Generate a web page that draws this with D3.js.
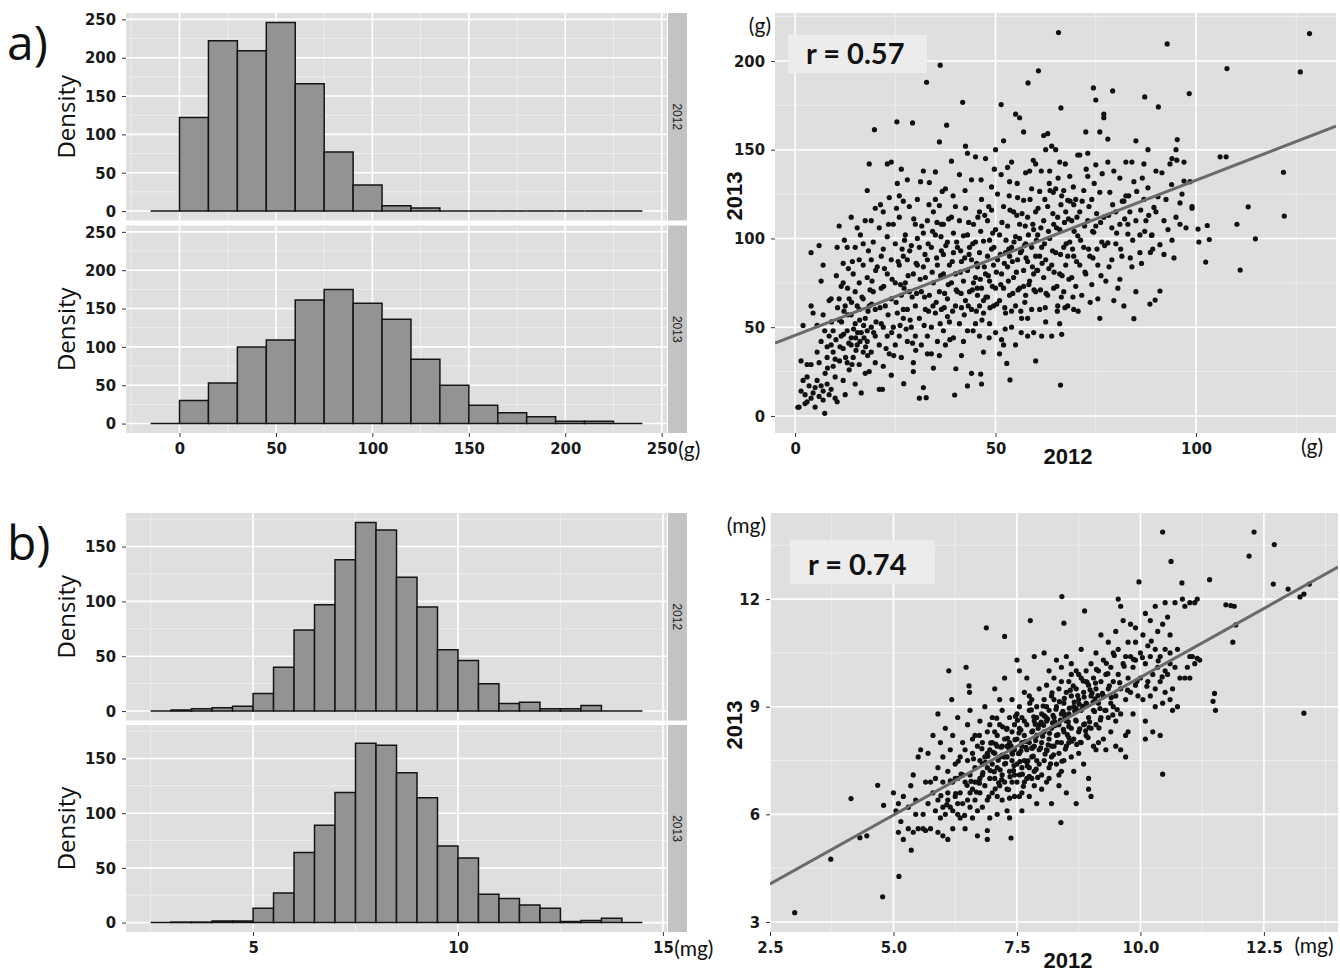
<!DOCTYPE html>
<html>
<head>
<meta charset="utf-8">
<script src="https://cdn.jsdelivr.net/npm/d3@7"></script>
<style>
  body { margin: 0; background: #fff; }
  svg { display: block; }
  .tick text { font-family: "Liberation Sans Narrow", "DejaVu Sans Condensed", "Liberation Sans", sans-serif; font-weight: bold; font-size: 16.5px; fill: #1a1a1a; }
  .tick line { stroke: #333; }
  .major { stroke: #fff; stroke-width: 1.6; }
  .minor { stroke: #f1f1f1; stroke-width: 0.8; }
</style>
</head>
<body>
<svg id="chart"></svg>
<script>
// DATA - histograms (counts per bin)
const gBinStart = -15, gBinWidth = 15;
const gCounts2012 = [0, 122, 222, 209, 246, 166, 77, 34, 7, 4, 0, 0, 0, 0, 0, 0, 0];
const gCounts2013 = [0, 30, 53, 100, 109, 161, 175, 157, 136, 84, 50, 24, 14, 9, 3, 3, 0];
const mgBinStart = 2.5, mgBinWidth = 0.5;
const mgCounts2012 = [0, 1, 2, 3, 4.5, 16, 40, 74, 97, 138, 172, 165, 122, 95, 56, 46, 25, 7, 8, 2, 2, 5, 0, 0];
const mgCounts2013 = [0, 0.5, 0.5, 1.5, 1.5, 13, 27, 64, 89, 119, 164, 162, 137, 114, 70, 59, 26, 22, 16, 13, 1, 2, 4, 0];

// DATA - ticks
const gTicks = [0, 50, 100, 150, 200, 250];
const mgTicksX = [5, 10, 15];
const mgTicksY = [0, 50, 100, 150];
const sgTicksX = [0, 50, 100];
const sgTicksY = [0, 50, 100, 150, 200];
const smgTicksX = [2.5, 5, 7.5, 10, 12.5];
const smgTicksY = [3, 6, 9, 12];
const facetLabels = ['2012', '2013'];

// DATA - regression fits [intercept, slope] and labels
const fitG = [45.4, 0.874];
const fitMg = [2.14, 0.768];
const rLabels = ['r = 0.57', 'r = 0.74'];

// DATA - scatter a (2012 g, 2013 g)
const ptsG = [
[65.7,216],[92.8,209.6],[128.3,215.4],[126,193.8],[107.7,195.7],[36.2,197.6],[32.8,188],[60.7,194.4],[58.1,187.6],[41.8,176.7],
[51.4,175.4],[37.8,163.8],[25.4,165.7],[29.3,165.1],[19.8,161.3],[36,154.4],[66.3,173.5],[74.4,184.8],[79.2,183.1],[87.2,179.7],
[90.6,174.1],[98.3,181.6],[95.3,155.7],[106,146],[107.5,146],[121.8,137.3],[122,112.6],[110.2,108],[113,117.8],[114.8,99.8],
[111,82.2],[102.4,86.7],[100.7,98],[103.3,99.4],[102.8,107.3],[100.5,105.3],[99,118],[93.9,130.4],[97,132.3],[95.2,144.1],
[84.5,54.8],[89.8,65.3],[91,70.4],[86.4,85.9],[88.6,92.1],[88.9,101.7],[66.2,17.4],[60,31],[53.6,20.3],[39.8,11.8],
[32.7,10.3],[43,16.9],[27.1,18.2],[21.8,15],[52.8,29.6],[46.3,23.6],[40.1,26.6],[7.4,1.5],[0.7,4.9],
[1,5],[1.5,14],[2,20],[2.5,12],[3,22],[3,8],[3.5,17],[4,29],[4,10],[4.5,13],[5,16],[5,5],[5.5,20],[6,11],[6,30],[6.5,17],
[7,14],[7,9],[7.5,24],[8,18],[8,33],[8.5,12],[9,15],[9,40],[9.5,28],[8.5,45],[7,57],[7,85],[6.5,76],[4,62],[4.5,58],
[4,92],[5.5,51],[2,51],[1.5,31],[3,29],[6,96],[8.5,65],[9,66],[9.5,36],[10,22],[10,10],[10.5,8],[9.5,48],[8,39],[10,32],[2.5,7],
[10.5,95],[11,107],[11.5,73],[11,54],[11.5,45],[12,38],[12,20],[12.5,12],[12,86],[12.5,62],[13,48],[13,95],[13.5,26],[13.5,66],
[14,57],[14,44],[14,112],[14.5,33],[14.5,80],[15,52],[15,18],[15,70],[15.5,40],[15.5,106],[16,60],[16,29],[16,88],[16.5,47],
[16.5,13],[17,66],[17,36],[17,97],[17.5,55],[17.5,110],[18,42],[18,78],[18,127],[18.5,62],[18.5,25],[18.5,142],[19,50],[19,88],
[19,36],[19.5,70],[19.5,98],[20,45],[20,117],[20,60],[20,30],[17.5,24],[15,95],[12,75],[11,66],[13,30],[14,40],[16,75],[19,110],
[18,48],[17,85],[15.5,62],
[5.5,36],[6.5,42],[7.4,48],[8.1,27],[9.1,53],[10.2,43],[10.6,61],[11.1,31],[11.6,53],[12.1,46],[12.6,33],[13.2,57],[13.4,41],
[14.1,64],[14.6,49],[15.2,37],[15.6,47],[16.1,54],[16.7,67],[17.2,44],[17.6,39],[18.2,59],[18.7,71],[19.1,63],[19.6,47],[20.2,53],
[11.2,39],[12.2,59],[13.1,72],[14.2,29],[15.1,44],[16.2,42],[17.1,51],[18.1,34],[19.2,76],[20.1,82],[16.3,102],[14.3,87],
[12.3,99],[10.3,79],[13.3,83],[18.3,93],
[20.5,84],[21,106],[21,40],[21.5,72],[21.5,52],[22,94],[22,28],[22,115],[22.5,62],[23,45],[23,80],[23,101],[23.5,35],[23.5,123],
[24,66],[24,88],[24,143],[24.5,50],[24.5,108],[25,75],[25,40],[25,97],[25.5,131],[25.5,58],[26,85],[26,45],[26,112],[26.5,68],
[26.5,33],[26.5,139],[27,90],[27,55],[27,121],[27.5,75],[27.5,102],[28,60],[28,42],[28,88],[28.5,118],[28.5,70],[29,50],[29,96],
[29.5,80],[29.5,30],[30,62],[30,108],[30,45],[21,15],[22,50],[24,23],[26,124],[28,133],[29.5,25],[23,142],[21.5,90],[27,60],
[21.2,61],[22.1,73],[22.7,38],[23.2,57],[24.1,47],[24.2,77],[25.2,64],[25.7,87],[26.2,51],[26.7,94],[27.2,72],[27.7,49],[28.2,79],
[28.7,54],[29.2,67],[29.6,111],[30.2,86],[30.1,37],[21.3,119],[22.3,83],[23.3,108],[24.6,34],[25.3,117],[26.3,74],[27.3,99],
[28.6,93],[29.3,41],[30.3,69],
[30.5,85],[30.5,122],[31,55],[31,95],[31.5,70],[31.5,40],[32,103],[32,138],[32,16],[32.5,78],[32.5,60],[33,110],[33,45],[33,88],
[33.5,131.5],[33.5,68],[34,95],[34,50],[34,35],[34.5,115],[34.5,75],[35,137.5],[35,58],[35,102],[35.5,85],[35.5,42],[36,118.5],
[36,70],[36.5,93],[36.5,60],[37,108],[37,48],[37,80],[37.5,128],[37.5,40],[38,98],[38,66],[38.5,85],[38.5,53],[39,112],[39,75],
[39.5,92],[39.5,44],[40,118],[40,62],[40,80],[33,35],[31,10],[34.5,27],[36,34],[38,56],[39,143.5],[37,91],[35,122],[32,84],
[30.5,100],[36.5,108],[39.5,103],
[31.2,77],[31.6,107],[32.2,51],[32.3,67],[33.2,97],[33.3,59],[34.2,81],[34.3,104],[35.2,64],[35.3,89],[36.2,52],[36.3,79],
[36.7,126.5],[37.2,61],[37.6,96],[38.2,74],[38.3,111],[38.6,43],[39.2,87],[39.3,59],[40.2,71],[40.3,98],[31.3,132],[33.4,119],
[35.4,109],[37.3,69],[39.4,124],[34.4,62],[32.4,91],[36.4,101],
[40.5,95],[40.5,70],[41,110],[41,52],[41.5,87],[41.5,61],[42,76],[42,42],[42,101.5],[42.5,65],[42.5,117],[43,82],[43,48],[43,148],
[43.5,95],[43.5,70],[44,60],[44,133],[44,88],[44.5,108],[44.5,75],[45,52],[45,98],[45,146],[45.5,68],[45.5,84],[46,115],[46,45],
[46,92],[46.5,72],[46.5,122],[47,58],[47,98.5],[47,36],[47.5,80],[47.5,145],[48,67],[48,90],[48,110],[48.5,52],[48.5,76],[49,129],
[49,94],[49.5,62],[49.5,85],[50,105],[50,72],[50,47],[50,150],[41,136],[42.5,152],[44,24],[47,65],[43,102],[45,78],[46,62],
[48.5,99],[49,116],[41.5,34],[46.5,18],
[41.2,81],[41.3,93],[42.2,57],[42.3,89],[43.2,62],[43.3,109],[44.2,71],[44.3,97],[45.2,59],[45.3,86],[45.6,112],[46.2,77],
[46.3,104],[46.6,54],[47.2,84],[47.6,67],[48.2,79],[48.3,118],[48.6,61],[49.2,73],[49.3,103],[49.6,95],[50.2,81],[50.3,63],
[41.4,69],[43.4,91],[45.4,72],[47.3,113],[42.4,127],[44.4,48],[46.4,133],[48.4,44],[49.7,139],
[50.5,88],[50.5,125],[51,65],[51,102],[51.5,80],[51.5,43],[52,118],[52,72],[52,155],[52.5,92],[52.5,58],[53,107],[53,84],
[53.5,132],[53.5,68],[54,95],[54,50],[54,143],[54.5,78],[54.5,115],[55,62],[55,101],[55,40],[55.5,88],[55.5,123],[56,72],
[56,108],[56.5,55],[56.5,93],[57,82],[57,121.5],[57,160],[57.5,68],[57.5,97],[58,112],[58,45],[58,87],[58.5,76],[58.5,138],
[59,95],[59,60],[59,128],[59.5,105],[59.5,80],[60,115],[60,70],[60,142],[53,140],[56,168],[55,170],[52,40],[54,59],[56,100],
[57,73],[58,55],[59.5,47],[51,35],[60,90],[53.5,90],[57.5,137],
[51.2,91],[51.3,74],[51.6,109],[52.2,86],[52.3,61],[52.6,99],[53.2,76],[53.3,94],[53.6,116],[54.2,87],[54.3,69],[54.6,98],
[55.2,81],[55.3,113],[55.6,71],[56.2,92],[56.3,59],[56.6,114],[57.2,96],[57.3,64],[57.6,89],[58.2,102],[58.3,74],[58.6,122],
[59.2,84],[59.3,108],[59.6,71],[60.2,99],[60.3,82],[51.4,136],[53.4,124],[55.4,131],[57.4,107],[59.4,144],[52.4,49],[56.4,47],
[60.5,102],[60.5,82],[61,126.5],[61,60],[61.5,95],[61.5,45],[62,110],[62,78],[62.5,150],[62.5,88],[63,68],[63,118],[63.5,100],
[63.5,138],[64,85],[64,152],[64,45],[64.5,108],[64.5,72],[65,128],[65,92],[65.5,112],[65.5,62],[66,105],[66,80],[66,143],
[66.5,124],[66.5,46],[67,95],[67,70],[67.5,115],[67.5,85],[68,121.5],[68,62],[68.5,98],[68.5,135],[69,78],[69,110],[69.5,90],
[69.5,60],[70,122],[70,73],[62,158],[63,159],[65,150],[61,90],[62.5,53],[67,127],[68,90],[69.5,119],[66,52],
[60.6,117],[61.2,71],[61.3,106],[61.6,86],[62.2,97],[62.3,122],[62.6,69],[63.2,104],[63.3,83],[63.6,127],[64.2,93],[64.3,114],
[64.6,81],[65.2,106],[65.3,73],[65.6,134],[66.2,91],[66.3,119],[66.6,79],[67.2,109],[67.3,61],[67.6,97],[68.2,111],[68.3,77],
[68.6,121],[69.2,94],[69.3,67],[69.6,104],[70.2,87],[70.3,112],[61.4,138],[63.4,131],[65.4,59],[67.4,142],[69.4,129],[62.4,61],
[64.4,126],[66.4,67],
[70.5,101.5],[70.5,147],[71,85],[71,115],[71.5,68],[72,127],[72,95],[72.5,80],[72.5,160],[73,110],[73,135],[73.5,90],[74,122],
[74,74],[74.5,103.5],[75,141.5],[75,107],[75.5,85],[75.5,66],[76,126],[76,55],[76.5,98],[77,112],[77,170],[77.5,76],[78,97.5],
[78,143],[78.5,126],[79,88],[79,106],[79.5,65],[80,115],[80,97],[73,148],[76,160],[78,156],[75,178],[77,168],[79.5,138],[71,147],
[71.2,99],[71.6,121],[72.2,107],[72.3,81],[73.2,94],[73.3,118],[74.2,104],[74.3,89],[75.2,114],[75.3,94],[76.2,109],[76.3,79],
[77.2,96],[78.2,113],[78.3,84],[79.2,119],[80.2,103],[72.6,139],[74.6,131],[76.6,136.5],[70.6,59],[73.6,64],
[80.5,72],[81,108],[81,134],[81.5,90],[82,121],[82,62],[82.5,143],[83,102.5],[83.5,115],[84,84],[84,143],[84.5,132],[85,110],
[85,155],[86,102],[86,92],[87,122],[87,142],[87.5,110],[88,128.5],[88,150],[89,102],[89.5,117.5],[90,115],[81,77],[82.5,124],
[85,70],[88.5,63],[90,138],[83,108],
[81.2,94],[82.2,111],[83.2,124],[84.2,99],[85.2,126.5],[86.2,116],[87.2,104],[88.2,113],[89.2,94],[83.6,89],[81.6,121],[86.6,134],
[90.5,123.5],[91,96.5],[91.5,137],[92,110],[92.5,122],[93,105],[93.5,142],[94,99],[94.5,89],[95,112],[95,150],[96,108],[96.5,125],
[97,143],[97.5,106],[98.5,132],[99,117],[92,91],[94,145],[96,120]
];

// DATA - scatter b (2012 mg, 2013 mg)
const ptsMg = [
[10.45,13.87],[12.3,13.87],[12.71,13.52],[12.2,13.2],[10.62,13.05],[9.97,12.48],[10.84,12.45],[11.4,12.54],[12.69,12.42],
[12.99,12.28],[13.42,12.42],[13.23,12.06],[13.31,12.14],[13.31,8.82],[11.5,9.37],[11.52,8.9],[11.47,9.15],[11.87,10.8],
[11.93,11.28],[11.73,11.84],[11.83,11.82],[11.9,11.8],[8.41,12.07],[7.77,11.4],[6.88,11.2],[7.25,10.96],[8.87,11.67],
[8.45,11.33],[10.45,7.12],[8.39,5.77],[7.38,5.34],[6.9,5.3],[5.11,4.27],[4.78,3.7],[3.0,3.26],[3.73,4.75],[4.14,6.44],
[4.32,5.35],[4.46,5.4],[4.68,6.81],[4.8,6.25],[5.36,5.0],[5.9,8.8],[6.12,10.0],[6.18,9.2],[6.47,10.1],[6.53,9.58],[6.54,9.4],
[5.0,6.6],[5.05,6.1],[5.1,5.5],[5.1,6.3],[5.15,5.8],[5.2,6.5],[5.3,5.6],[5.35,6.8],[5.4,5.5],[5.4,7.1],[5.45,6.0],[5.5,5.6],
[5.5,7.6],[5.2,5.3],[5.3,6.2],[5.45,6.4],
[5.55,7.8],[5.6,6.0],[5.6,5.6],[5.65,6.9],[5.7,6.3],[5.7,7.7],[5.75,5.6],[5.8,6.6],[5.8,8.2],[5.85,6.1],[5.85,7.0],[5.9,5.5],
[5.9,6.4],[5.9,7.3],[5.95,8.0],[6.0,6.2],[6.0,6.9],[6.0,5.4],[6.0,7.6],[5.75,6.9],[5.65,5.55],[5.95,5.9],
[6.05,6.0],[6.05,8.4],[6.1,6.6],[6.1,7.2],[6.1,5.3],[6.15,6.2],[6.15,7.8],[6.2,6.1],[6.2,6.9],[6.2,8.2],[6.25,6.5],[6.25,7.4],
[6.3,6.0],[6.3,7.0],[6.3,8.7],[6.35,6.6],[6.35,7.6],[6.4,6.3],[6.4,7.1],[6.4,8.0],[6.45,5.6],[6.45,6.9],[6.5,6.4],[6.5,7.5],
[6.5,8.5],[6.2,5.6],[6.35,5.9],[6.1,6.4],[6.45,7.8],[6.25,7.0],[6.3,6.3],
[6.55,6.2],[6.55,7.1],[6.55,8.9],[6.6,5.9],[6.6,6.7],[6.6,7.7],[6.65,6.4],[6.65,7.3],[6.65,8.2],[6.7,6.9],[6.7,5.4],[6.7,7.9],
[6.75,6.6],[6.75,7.5],[6.75,8.6],[6.8,6.2],[6.8,7.1],[6.8,8.0],[6.85,6.8],[6.85,7.6],[6.85,9.0],[6.9,7.3],[6.9,6.4],[6.9,8.3],
[6.95,7.0],[6.95,7.8],[6.95,5.9],[7.0,6.6],[7.0,7.4],[7.0,8.7],[7.0,8.0],[6.6,8.1],[6.7,6.1],[6.8,7.4],[6.9,7.7],[6.75,7.0],
[6.65,6.9],[6.55,6.6],[6.95,8.5],[6.9,5.55],
[7.05,7.0],[7.05,7.7],[7.05,9.5],[7.1,6.5],[7.1,7.3],[7.1,8.2],[7.1,6.0],[7.15,6.8],[7.15,7.6],[7.15,8.5],[7.2,7.1],[7.2,7.9],
[7.2,6.4],[7.2,8.9],[7.25,7.4],[7.25,8.1],[7.25,9.8],[7.3,6.7],[7.3,7.6],[7.3,8.4],[7.3,6.1],[7.35,7.2],[7.35,8.0],[7.35,8.7],
[7.4,6.9],[7.4,7.5],[7.4,8.3],[7.4,9.2],[7.45,7.1],[7.45,7.8],[7.45,6.5],[7.5,7.4],[7.5,8.1],[7.5,8.8],[7.5,6.9],[7.5,10.3],
[7.15,9.2],[7.35,5.9],[7.05,8.3],[7.25,6.9],[7.45,8.5],[7.3,7.9],[7.2,7.65],[7.4,7.7],[7.1,7.9],[7.35,6.45],
[7.55,7.1],[7.55,7.7],[7.55,8.4],[7.55,9.0],[7.6,6.6],[7.6,7.3],[7.6,8.0],[7.6,8.7],[7.6,6.1],[7.65,7.5],[7.65,8.2],[7.65,9.4],
[7.65,6.9],[7.7,7.0],[7.7,7.8],[7.7,8.5],[7.7,9.8],[7.75,7.3],[7.75,8.0],[7.75,8.9],[7.75,6.5],[7.8,7.6],[7.8,8.3],[7.8,9.2],
[7.8,7.0],[7.85,7.9],[7.85,8.6],[7.85,7.2],[7.85,10.4],[7.9,7.5],[7.9,8.2],[7.9,9.0],[7.9,6.3],[7.95,7.8],[7.95,8.5],[7.95,9.5],
[8.0,7.1],[8.0,8.0],[8.0,8.8],[8.0,6.7],[7.55,10.0],[7.7,7.45],[7.6,7.9],[7.8,7.85],[7.9,8.7],[7.65,8.6],[7.75,9.3],[7.85,6.8],
[7.95,7.4],[7.55,6.5],
[8.05,7.5],[8.05,8.3],[8.05,9.2],[8.05,10.5],[8.1,7.8],[8.1,8.6],[8.1,6.9],[8.1,9.6],[8.15,7.3],[8.15,8.1],[8.15,8.9],[8.15,10.0],
[8.2,7.6],[8.2,8.4],[8.2,9.3],[8.2,6.3],[8.25,7.9],[8.25,8.7],[8.25,9.8],[8.3,7.4],[8.3,8.2],[8.3,9.0],[8.3,10.3],[8.35,7.7],
[8.35,8.5],[8.35,9.5],[8.35,6.8],[8.4,8.0],[8.4,8.8],[8.4,7.2],[8.4,10.1],[8.45,8.3],[8.45,9.1],[8.45,7.5],[8.5,8.6],[8.5,9.4],
[8.5,7.9],[8.5,6.6],[8.05,8.75],[8.2,7.9],[8.3,8.5],[8.45,8.8],[8.1,9.0],[8.25,9.2],[8.4,9.7],[8.15,7.0],[8.35,7.1],[8.5,10.4],
[8.55,8.0],[8.55,8.8],[8.55,9.7],[8.6,7.6],[8.6,8.4],[8.6,9.3],[8.6,10.2],[8.65,8.1],[8.65,9.0],[8.65,7.2],[8.7,8.6],[8.7,9.5],
[8.7,10.0],[8.7,6.3],[8.75,8.3],[8.75,9.2],[8.75,7.7],[8.8,8.9],[8.8,9.8],[8.8,10.6],[8.85,8.5],[8.85,9.4],[8.85,7.4],[8.9,9.1],
[8.9,10.0],[8.9,8.2],[8.95,9.6],[8.95,8.7],[8.95,7.0],[9.0,9.3],[9.0,10.2],[9.0,8.4],[9.0,6.5],[8.6,9.9],[8.7,8.95],[8.8,8.0],
[8.9,9.7],[8.55,8.45],[8.75,9.9],[8.95,6.7],
[9.05,8.9],[9.05,9.8],[9.05,7.9],[9.1,9.5],[9.1,10.5],[9.1,8.5],[9.15,9.1],[9.15,10.0],[9.15,8.0],[9.2,9.7],[9.2,11.0],[9.2,8.7],
[9.25,9.3],[9.25,10.3],[9.3,8.9],[9.3,9.9],[9.3,7.8],[9.35,9.5],[9.35,10.8],[9.4,9.1],[9.4,10.1],[9.4,8.3],[9.45,9.7],[9.45,10.5],
[9.5,9.3],[9.5,8.6],[9.5,11.1],[9.5,7.9],[9.1,7.8],[9.25,8.1],[9.35,8.7],[9.45,9.0],
[9.55,9.9],[9.55,10.6],[9.55,12.0],[9.6,9.5],[9.6,11.8],[9.6,8.8],[9.65,10.2],[9.65,11.4],[9.7,9.2],[9.7,10.4],[9.7,7.6],[9.75,9.8],
[9.75,8.3],[9.8,10.4],[9.8,9.4],[9.8,11.3],[9.85,10.1],[9.85,8.8],[9.9,9.6],[9.9,10.8],[9.9,11.2],[9.95,9.3],[10.0,10.5],[10.0,9.8],
[9.6,7.8],[9.7,8.2],[9.75,10.8],[9.9,10.3],
[10.05,9.2],[10.05,11.0],[10.1,10.2],[10.1,8.1],[10.1,11.6],[10.15,9.7],[10.15,10.7],[10.2,9.3],[10.2,10.4],[10.2,11.4],[10.25,8.3],
[10.25,9.9],[10.3,10.6],[10.3,9.5],[10.3,11.8],[10.35,10.1],[10.35,11.1],[10.4,9.7],[10.4,10.4],[10.4,8.2],[10.45,9.1],[10.45,11.3],
[10.5,10.0],[10.5,9.4],[10.5,11.9],[10.5,10.6],[10.1,8.6],[10.3,9.0],
[10.55,9.9],[10.55,11.5],[10.6,9.2],[10.6,10.5],[10.6,11.0],[10.65,9.5],[10.65,8.9],[10.7,10.1],[10.7,11.9],[10.75,9.0],[10.8,9.8],
[10.85,12.0],[10.9,9.8],[10.9,11.8],[10.95,10.1],[11.0,9.8],[11.0,11.9],[10.75,10.6],[10.6,10.2],
[11.05,10.4],[11.1,10.2],[11.1,11.9],[11.15,12.0],[11.15,10.35],[11.2,10.3],[11.0,10.4],
[6.62,7.55],[6.68,6.62],[6.74,8.2],[6.81,7.16],[6.86,7.45],[6.93,6.49],[6.97,7.99],[7.04,7.19],[7.09,8.68],[7.13,6.88],
[7.18,7.87],[7.24,7.6],[7.29,8.37],[7.33,6.69],[7.38,7.91],[7.44,7.36],[7.47,8.73],[7.53,7.69],[7.58,8.35],[7.61,7.12],
[7.67,8.03],[7.72,7.49],[7.76,9.1],[7.81,7.84],[7.84,8.72],[7.89,7.26],[7.93,8.4],[7.98,7.85],[8.03,9.02],[8.07,7.68],
[8.12,8.66],[8.16,8.26],[8.21,9.39],[8.24,7.66],[8.29,8.93],[8.33,8.22],[8.38,8.63],[8.41,7.48],[8.46,9.23],[8.52,8.22],
[8.56,8.96],[8.61,8.04],[8.64,9.58],[8.69,8.63],[8.73,9.31],[8.78,8.01],[8.83,9.01],[8.87,8.52],[8.92,9.68],[8.96,8.42],
[9.02,9.38],[9.07,8.87],[9.11,10.04],[9.16,8.41],[9.23,9.37],[9.28,8.9],[9.34,9.92],[9.41,9.26],[9.47,10.43],[9.53,8.92],
[6.57,6.92],[6.79,7.83],[7.06,6.71],[7.21,8.44],[7.36,7.05],[7.51,8.62],[7.63,6.78],[7.79,8.91],[7.92,7.03],[8.08,8.71],
[8.18,7.41],[8.36,9.14],[8.48,7.82],[8.58,9.46],[8.71,7.95],[8.84,9.72],[8.94,8.14],[9.09,9.66],[9.19,8.63],[9.31,10.21],
[9.44,8.77],[7.02,7.73],[7.27,7.42],[7.46,8.08],[7.71,7.35],[7.87,8.51],[8.13,7.94],[8.27,8.58],[8.44,8.37],[8.67,8.88],
[8.89,8.33],[9.04,9.12],[6.74,6.87],[6.91,7.62],[7.16,7.24],[7.41,7.68],[7.56,7.47],[7.83,7.62],[8.04,8.48],[8.23,8.76],
[8.54,8.58],[8.76,9.07],[8.98,9.47],[9.14,9.31],[9.37,9.58],[6.49,6.81],[6.37,7.12],[6.26,6.58],[6.15,6.93],[6.08,6.27],
[5.96,6.52],[6.31,7.48],[6.44,5.97],[9.58,9.67],[9.67,10.13],[9.74,9.46],[9.86,10.32],[9.93,9.71],[10.04,10.37],[10.13,9.57],
[10.22,10.83],[10.36,10.28],[10.44,9.83],
[7.07,7.96],[7.19,6.97],[7.31,8.12],[7.43,7.22],[7.54,8.27],[7.68,7.87],[7.75,7.06],[7.88,8.06],[7.99,8.57],[8.11,7.78],
[8.22,8.55],[8.32,8.01],[8.43,8.87],[8.55,8.14],[8.66,9.13],[8.77,8.38],[8.86,9.27],[8.97,8.58],[9.08,9.22],[9.18,8.95],
[6.96,7.22],[7.12,7.51],[7.34,7.84],[7.58,7.77],[7.82,8.33],[8.02,8.18],[8.26,8.47],[8.47,8.71],[8.68,8.91],[8.91,9.08]
];

const W = 1340, H = 975;
const BG = '#dfdfdf', STRIP = '#c3c3c3', BAR = '#939393';

const svg = d3.select('#chart').attr('width', W).attr('height', H);

//HELPERS
function addPanel(x, y, xMaj, xMin, yMaj, yMin) {
  const [xa, xb] = x.range(), [yb, ya] = y.range();
  const g = svg.append('g');
  g.append('rect')
    .attr('x', xa).attr('y', ya)
    .attr('width', xb - xa).attr('height', yb - ya)
    .attr('fill', BG);
  const vLines = (vals, cls) => g.append('g').selectAll('line').data(vals).join('line')
    .attr('class', cls)
    .attr('x1', d => x(d)).attr('x2', d => x(d))
    .attr('y1', ya).attr('y2', yb);
  const hLines = (vals, cls) => g.append('g').selectAll('line').data(vals).join('line')
    .attr('class', cls)
    .attr('x1', xa).attr('x2', xb)
    .attr('y1', d => y(d)).attr('y2', d => y(d));
  hLines(yMin, 'minor'); vLines(xMin, 'minor');
  hLines(yMaj, 'major'); vLines(xMaj, 'major');
  return g;
}

function addAxisLeft(x0, y, ticks, fmt) {
  const g = svg.append('g')
    .attr('transform', `translate(${x0},0)`)
    .call(d3.axisLeft(y).tickValues(ticks).tickSize(4).tickPadding(6).tickFormat(fmt || d3.format('d')));
  g.select('.domain').remove();
  return g;
}

function addAxisBottom(y0, x, ticks, fmt) {
  const g = svg.append('g')
    .attr('transform', `translate(0,${y0})`)
    .call(d3.axisBottom(x).tickValues(ticks).tickSize(4).tickPadding(5).tickFormat(fmt || d3.format('d')));
  g.select('.domain').remove();
  return g;
}

function drawHist(g, x, y, counts, start, width) {
  g.append('g').selectAll('path').data(counts).join('path')
    .attr('d', (d, i) => {
      const a = x(start + i * width), b = x(start + (i + 1) * width);
      return `M${a},${y(0)}V${y(d)}H${b}V${y(0)}Z`;
    })
    .attr('fill', BAR)
    .attr('stroke', '#151515')
    .attr('stroke-width', 1.5);
}

function addStrip(x0, x1, y, label) {
  const [yb, ya] = y.range();
  svg.append('rect')
    .attr('x', x0).attr('y', ya)
    .attr('width', x1 - x0).attr('height', yb - ya)
    .attr('fill', STRIP);
  svg.append('text')
    .attr('transform', `translate(${(x0 + x1) / 2},${(ya + yb) / 2}) rotate(90)`)
    .attr('text-anchor', 'middle')
    .attr('dy', '0.35em')
    .style('font-family', '"Liberation Sans", Arial, sans-serif')
    .style('font-size', '12px')
    .style('fill', '#222')
    .text(label);
}

function addText(x, y, str, size, weight, rotate, anchor) {
  const t = svg.append('text')
    .attr('transform', `translate(${x},${y})` + (rotate ? ` rotate(${rotate})` : ''))
    .attr('text-anchor', anchor || 'start')
    .style('font-family', 'Lato, "Open Sans", sans-serif')
    .style('font-size', size + 'px')
    .style('font-weight', weight)
    .style('fill', '#111')
    .text(str);
  return t;
}

function drawHistPair(counts, start, width, xDom, yDom, xTicks, xMinor, yTicks, yMinor, tops, unit, tag, tagY) {
  const x = d3.scaleLinear().domain(xDom).range([126, 667]);
  counts.forEach((c, k) => {
    const y = d3.scaleLinear().domain(yDom).range([tops[k][1], tops[k][0]]);
    const g = addPanel(x, y, xTicks, xMinor, yTicks, yMinor);
    drawHist(g, x, y, c, start, width);
    addAxisLeft(126, y, yTicks);
    addStrip(668, 687, y, facetLabels[k]);
    addText(67, (tops[k][0] + tops[k][1]) / 2, 'Density', 24, 'normal', -90, 'middle')
      .attr('dy', '0.35em')
      .style('font-family', '"Open Sans", sans-serif');
  });
  const ax = addAxisBottom(tops[1][1], x, xTicks);
  // unit sits right after the last tick label
  const lastLabel = ax.selectAll('.tick text').nodes().pop();
  const last = xTicks[xTicks.length - 1];
  addText(x(last) + lastLabel.getComputedTextLength() / 2 + 1, tops[1][1] + 24, unit, 21, 'normal');
  addText(7, tagY, tag, 48, 'normal').style('font-family', '"Open Sans", sans-serif');
}

function drawScatter(pts, fit, xDom, yDom, xr, yr, xTicks, xMinor, yTicks, yMinor, fmt, rLabel, box, unit, titlePos) {
  const x = d3.scaleLinear().domain(xDom).range(xr);
  const y = d3.scaleLinear().domain(yDom).range([yr[1], yr[0]]);
  const g = addPanel(x, y, xTicks, xMinor, yTicks, yMinor);
  const clipId = 'clip' + xr[0];
  svg.append('clipPath').attr('id', clipId)
    .append('rect').attr('x', xr[0]).attr('y', yr[0])
    .attr('width', xr[1] - xr[0]).attr('height', yr[1] - yr[0]);

  // r label box
  g.append('rect')
    .attr('x', box[0]).attr('y', box[1])
    .attr('width', box[2]).attr('height', box[3])
    .attr('fill', '#ececec');
  addText(box[0] + 18, box[1] + box[3] - 9, rLabel, 29, 'bold');

  g.append('g').attr('clip-path', `url(#${clipId})`)
    .selectAll('circle').data(pts).join('circle')
      .attr('cx', d => x(d[0]))
      .attr('cy', d => y(d[1]))
      .attr('r', 2.6)
      .attr('fill', '#111');

  g.append('line')
    .attr('clip-path', `url(#${clipId})`)
    .attr('x1', x(xDom[0])).attr('y1', y(fit[0] + fit[1] * xDom[0]))
    .attr('x2', x(xDom[1])).attr('y2', y(fit[0] + fit[1] * xDom[1]))
    .attr('stroke', '#6a6a6a')
    .attr('stroke-width', 3);

  addAxisLeft(xr[0], y, yTicks, fmt.y);
  addAxisBottom(yr[1], x, xTicks, fmt.x);

  addText(xr[0] - 4, yr[0] + 20, unit, 21, 'normal', 0, 'end');
  addText(xr[1] - 24, yr[1] + 21, unit, 21, 'normal', 0, 'middle');
  addText(titlePos[0], yr[1] + titlePos[1], '2012', 22, 'bold', 0, 'middle')
    .style('font-family', '"Liberation Sans", Arial, sans-serif');
  addText(734, titlePos[2], '2013', 22, 'bold', -90, 'middle')
    .attr('dy', '0.35em')
    .style('font-family', '"Liberation Sans", Arial, sans-serif');
}

//PANEL a - histograms
drawHistPair([gCounts2012, gCounts2013], gBinStart, gBinWidth,
  [-27.75, 252.75], [-12.3, 258.3],
  gTicks, [-25, 25, 75, 125, 175, 225], gTicks, [25, 75, 125, 175, 225],
  [[13, 220.5], [225.5, 433]], '(g)', 'a)', 60);

//PANEL b - histograms
drawHistPair([mgCounts2012, mgCounts2013], mgBinStart, mgBinWidth,
  [1.9, 15.1], [-8.6, 180.6],
  mgTicksX, [2.5, 7.5, 12.5], mgTicksY, [25, 75, 125, 175],
  [[513, 720.5], [725, 932]], '(mg)', 'b)', 560);

//PANEL a - scatter
drawScatter(ptsG, fitG, [-5, 134.9], [-9.6, 227], [775, 1336], [13, 433],
  sgTicksX, [25, 75, 125], sgTicksY, [25, 75, 125, 175, 225],
  { x: d3.format('d'), y: d3.format('d') }, rLabels[0], [788, 35, 139, 38], '(g)', [1068, 31, 196]);

//PANEL b - scatter
drawScatter(ptsMg, fitMg, [2.5, 14.0], [2.72, 14.4], [770, 1338], [513, 932],
  smgTicksX, [3.75, 6.25, 8.75, 11.25, 13.75], smgTicksY, [4.5, 7.5, 10.5, 13.5],
  { x: d3.format('.1f'), y: d3.format('d') }, rLabels[1], [790, 540, 145, 44], '(mg)', [1068, 36, 725]);
</script>
</body>
</html>
